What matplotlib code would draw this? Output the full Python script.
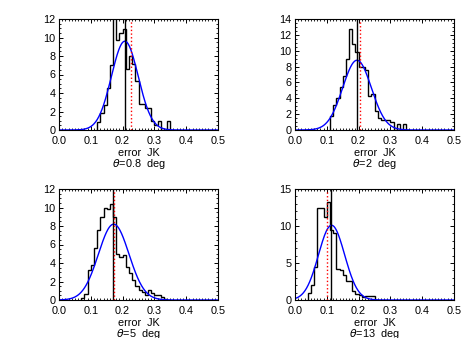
#! /usr/bin/python3

import numpy
import matplotlib
matplotlib.use("Agg")
import matplotlib.pyplot as plt
from matplotlib.ticker import MultipleLocator

### Data (histograms are normalised, bin width 0.01)
bin_width = 0.01
hist_start = [0.12, 0.11, 0.07, 0.04]

hist_08 = [0.9, 1.8, 2.7, 4.5, 7.0, 12.5, 9.7, 10.5, 10.9, 6.6, 8.0, 7.1,
           5.3, 2.8, 2.8, 2.4, 2.4, 1.0, 0.5, 1.0, 0.0, 0.0, 1.0]
hist_2 = [1.8, 3.2, 4.0, 5.4, 6.8, 9.0, 12.7, 10.9, 9.8, 8.0, 7.9, 7.6,
          4.3, 4.5, 2.4, 1.5, 1.2, 1.3, 1.3, 1.0, 0.0, 0.7, 0.0, 0.7]
hist_5 = [0.2, 0.6, 3.2, 3.8, 5.6, 7.6, 9.0, 10.0, 9.8, 10.4, 9.0, 5.0,
          4.6, 4.9, 3.6, 2.9, 2.2, 1.5, 1.1, 0.9, 0.5, 1.1, 0.8, 0.55,
          0.5, 0.3, 0.1]
hist_13 = [0.9, 2.0, 4.4, 12.5, 12.4, 11.2, 13.3, 9.5, 9.0, 4.2, 4.0, 3.4,
           2.6, 2.6, 1.2, 0.8, 0.7, 0.4, 0.6, 0.5, 0.5]

### Gaussian fit parameters
fit_amp = [9.6, 8.8, 8.2, 10.1]
fit_mean = [0.207, 0.195, 0.172, 0.115]
fit_sigma = [0.042, 0.045, 0.048, 0.041]

### vertical markers
median_line = [0.207, 0.195, 0.1705, 0.112]
mean_line = [0.225, 0.204, 0.172, 0.102]

theta_labels = ["0.8", "2", "5", "13"]
y_max = [12, 14, 12, 15]
y_step = [2, 2, 2, 5]

### matplotlib settings
plt.rcParams["font.family"] = ["Liberation Sans", "DejaVu Sans"]
plt.rcParams["font.size"] = 7.8
plt.rcParams["xtick.direction"] = "in"
plt.rcParams["ytick.direction"] = "in"
plt.rcParams["xtick.top"] = True
plt.rcParams["ytick.right"] = True

W, H = 473.0, 338.0
fig = plt.figure(figsize=(W / 100, H / 100), dpi=100)

corners = [(59, 19), (295, 19), (59, 189), (295, 189)]
ax_w, ax_h = 159, 111

hists = [hist_08, hist_2, hist_5, hist_13]
xfit = numpy.linspace(0.0, 0.5, 400)

for i in range(4):
    x0, y0 = corners[i]
    ax = fig.add_axes([x0 / W, 1 - (y0 + ax_h) / H, ax_w / W, ax_h / H])

    vals = numpy.array(hists[i])
    edges = hist_start[i] + bin_width * numpy.arange(len(vals) + 1)
    ax.stairs(vals, edges, color="black", linewidth=1.0)

    yfit = fit_amp[i] * numpy.exp(-0.5 * ((xfit - fit_mean[i]) / fit_sigma[i]) ** 2)
    ax.plot(xfit, yfit, color="blue", linewidth=1.0)

    ax.axvline(median_line[i], color="black", linewidth=1.0)
    ax.axvline(mean_line[i], color="red", linewidth=1.0, linestyle=":")

    ax.set_xlim(0, 0.5)
    ax.set_ylim(0, y_max[i])
    ax.xaxis.set_major_locator(MultipleLocator(0.1))
    ax.xaxis.set_minor_locator(MultipleLocator(0.01))
    ax.yaxis.set_major_locator(MultipleLocator(y_step[i]))
    ax.yaxis.set_minor_locator(MultipleLocator(y_step[i] / 4.0 if y_step[i] == 2 else 1))
    ax.xaxis.set_major_formatter(matplotlib.ticker.FormatStrFormatter("%.1f"))
    ax.tick_params(which="major", length=3.0, width=0.7, pad=4)
    ax.tick_params(which="minor", length=1.5, width=0.6)
    ax.tick_params(axis="y", pad=2.5)
    for s in ax.spines.values():
        s.set_linewidth(0.8)

    ax.set_xlabel("error  JK\n" + r"$\theta$=" + theta_labels[i] + "  deg",
                  linespacing=0.9, labelpad=1.5)

fig.savefig("out.png", dpi=100)
